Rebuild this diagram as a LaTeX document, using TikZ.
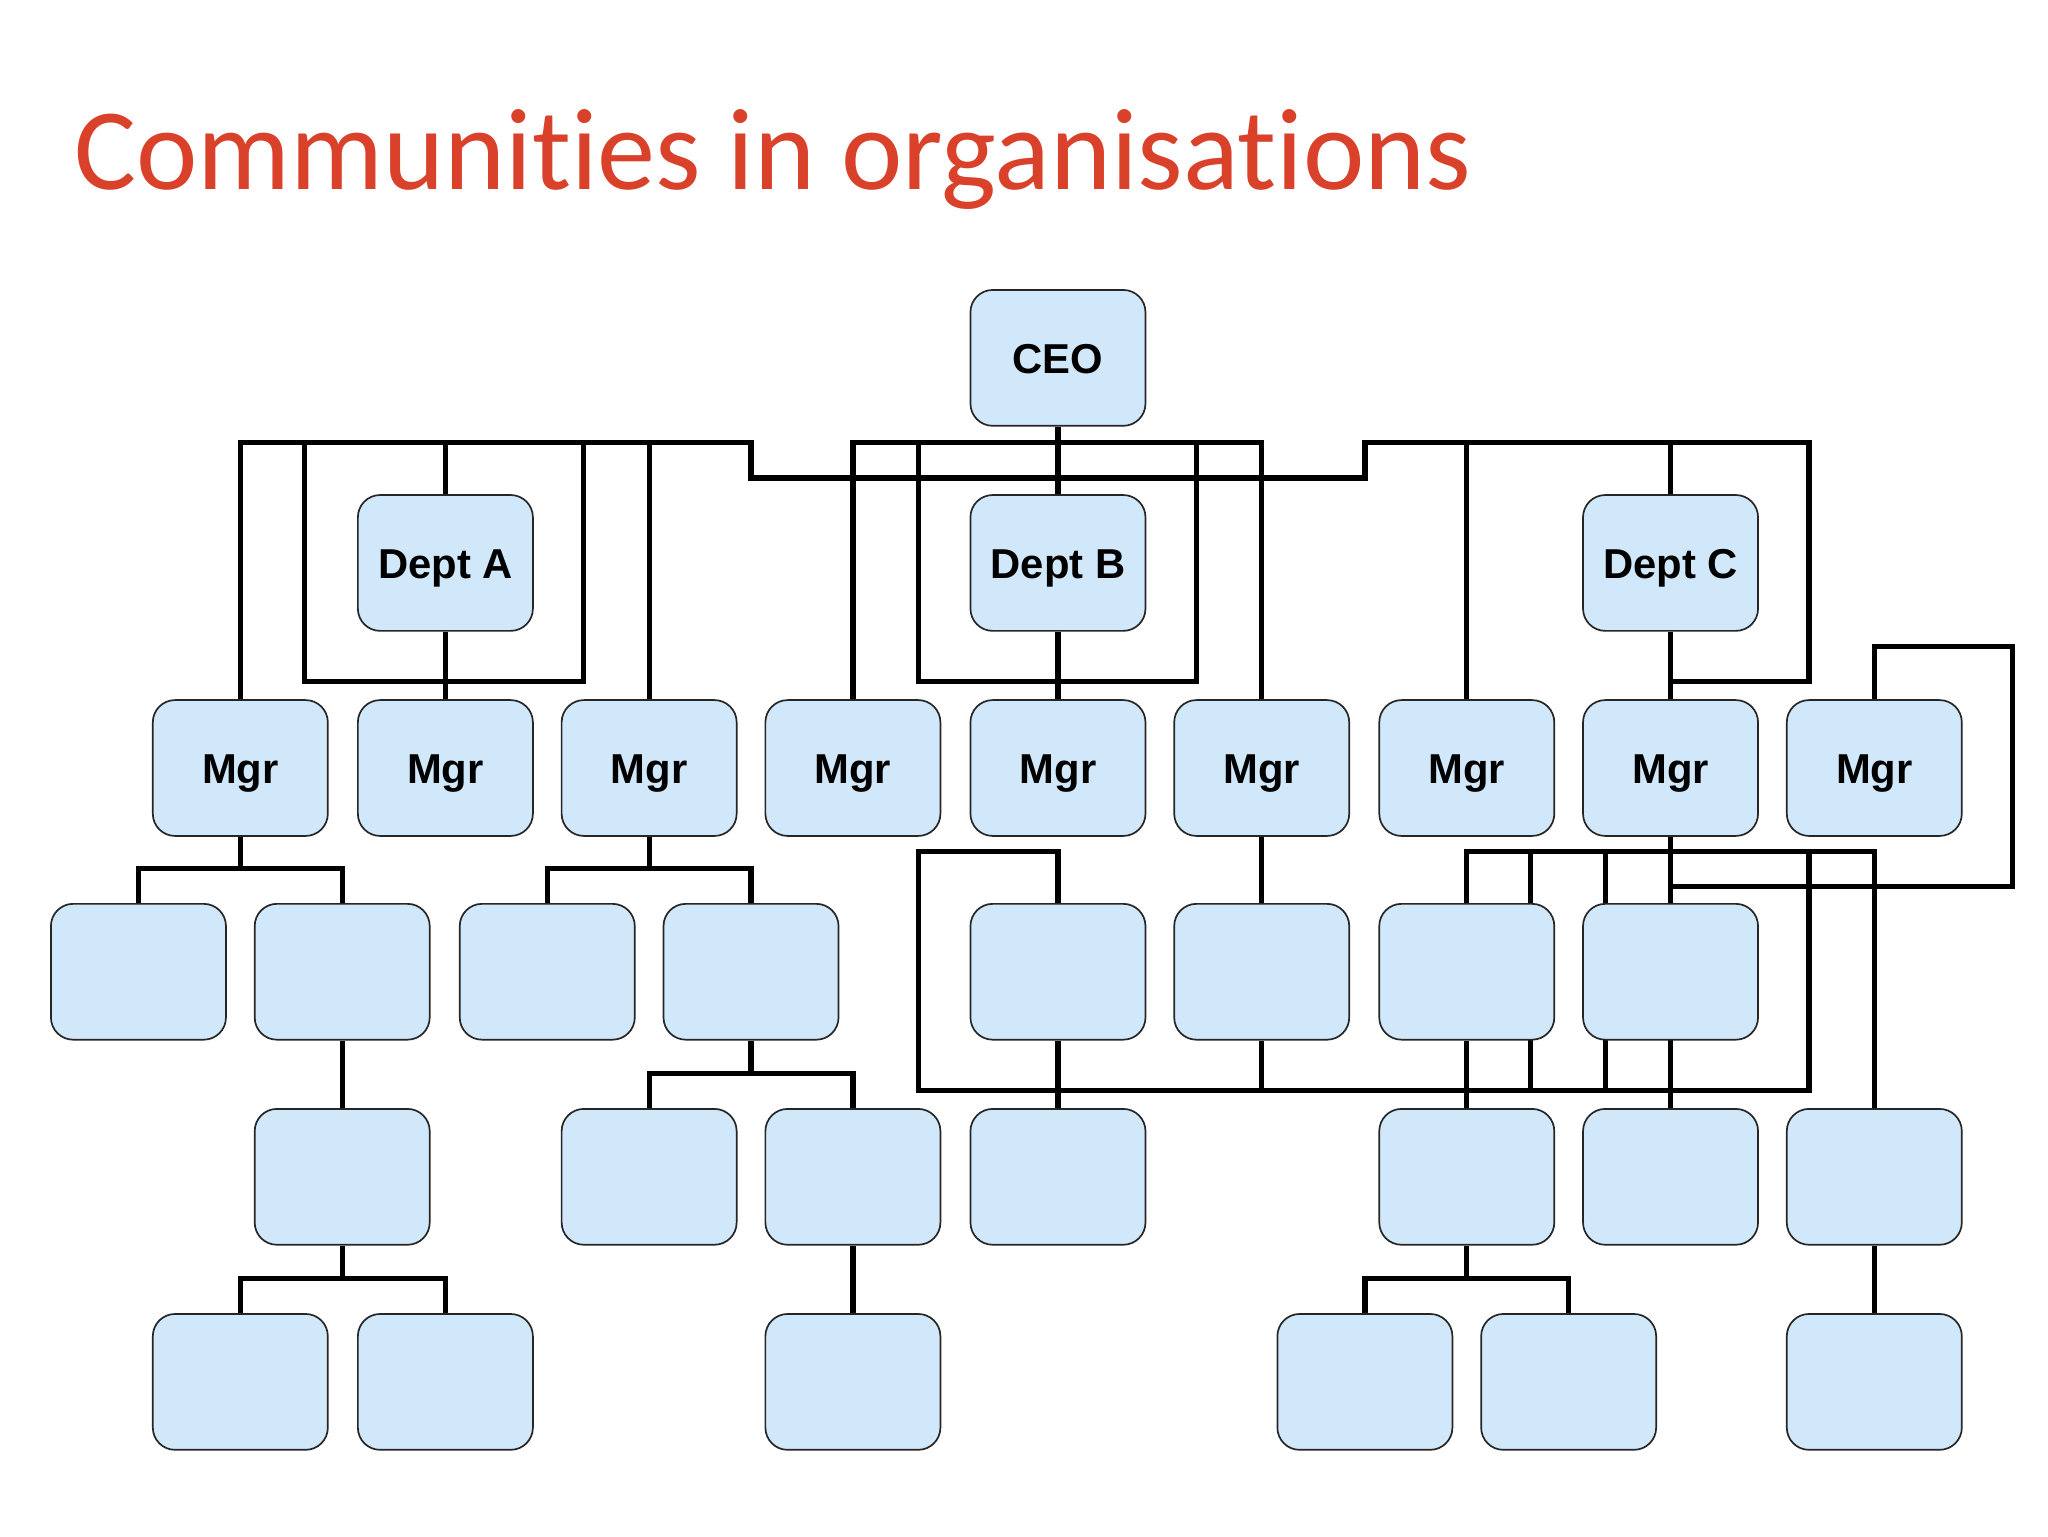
\documentclass[tikz,border=0pt]{standalone}
\usepackage{fontspec}
\setmainfont{Liberation Sans}
\newfontfamily\titlefont[Ligatures={NoCommon,NoRare}]{Carlito}
\pgfdeclarelayer{bg}
\pgfdeclarelayer{paper}
\pgfsetlayers{paper,bg,main}
\definecolor{boxfill}{HTML}{D0E8FA}
\definecolor{titlered}{HTML}{D9412A}
\tikzset{
 box/.style={draw=black!85,line width=1.3pt,fill=boxfill,rounded corners=17pt,minimum width=134pt,minimum height=104pt,inner sep=0pt,text height=24pt,text depth=0pt,font=\fontsize{32}{34}\selectfont\bfseries},
 link/.style={line width=4pt,line join=miter}
}
\begin{document}
\begin{tikzpicture}[x=1pt,y=-1pt]
\useasboundingbox (0,0) rectangle (1568,1176);
\begin{pgfonlayer}{paper}
\fill[white] (0,0) rectangle (1568,1176);
\end{pgfonlayer}
\node[anchor=base west,text=titlered,font=\titlefont\fontsize{89}{92}\selectfont,inner sep=0pt] (title) at (57,145) {Communities in organisations};
% nodes
\node[box] (ceo) at (810,274) {CEO};
\node[box] (da) at (341,431) {Dept A};
\node[box] (db) at (810,431) {Dept B};
\node[box] (dc) at (1279,431) {Dept C};
\foreach \n/\x in {1/184,2/341,3/497,4/653,5/810,6/966,7/1123,8/1279,9/1435}
 \node[box] (m\n) at (\x,588) {Mgr};
\foreach \n/\x in {1/106,2/262,3/419,4/575,5/810,6/966,7/1123,8/1279}
 \node[box] (a\n) at (\x,744) {};
\foreach \n/\x in {1/262,2/497,3/653,4/810,5/1123,6/1279,7/1435}
 \node[box] (b\n) at (\x,901) {};
\foreach \n/\x in {1/184,2/341,3/653,4/1045,5/1201,6/1435}
 \node[box] (c\n) at (\x,1058) {};
\begin{pgfonlayer}{bg}
% top bus
\draw[link] (ceo.south) -- (810,366) -- (575,366) -- (575,339) -- (184,339) -- (m1.north);
\draw[link] (810,366) -- (1045,366) -- (1045,339) -- (1385,339) -- (1385,522) -- (1279,522);
\draw[link] (341,339) -- (da.north);
\draw[link] (497,339) -- (m3.north);
\draw[link] (233,339) -- (233,522) -- (447,522) -- (447,339);
\draw[link] (da.south) -- (m2.north);
\draw[link] (m4.north) -- (653,339) -- (966,339) -- (m6.north);
\draw[link] (703,339) -- (703,522) -- (916,522) -- (916,339);
\draw[link] (810,366) -- (db.north);
\draw[link] (db.south) -- (m5.north);
\draw[link] (1123,339) -- (m7.north);
\draw[link] (1279,339) -- (dc.north);
\draw[link] (dc.south) -- (m8.north);
\draw[link] (m9.north) -- (1435,495) -- (1541,495) -- (1541,679) -- (1279,679);
% left trees
\draw[link] (m1.south) -- (184,665) -- (106,665) -- (a1.north);
\draw[link] (184,665) -- (262,665) -- (a2.north);
\draw[link] (a2.south) -- (b1.north);
\draw[link] (b1.south) -- (262,979) -- (184,979) -- (c1.north);
\draw[link] (262,979) -- (341,979) -- (c2.north);
\draw[link] (m3.south) -- (497,665) -- (419,665) -- (a3.north);
\draw[link] (497,665) -- (575,665) -- (a4.north);
\draw[link] (a4.south) -- (575,822) -- (497,822) -- (b2.north);
\draw[link] (575,822) -- (653,822) -- (b3.north);
\draw[link] (b3.south) -- (c3.north);
% middle/right
\draw[link] (a5.north) -- (810,652) -- (703,652) -- (703,835) -- (1385,835) -- (1385,652);
\draw[link] (a7.north) -- (1123,652) -- (1435,652) -- (b7.north);
\draw[link] (1172,652) -- (1172,835);
\draw[link] (1229,652) -- (1229,835);
\draw[link] (m8.south) -- (b6.north);
\draw[link] (m6.south) -- (a6.north);
\draw[link] (a6.south) -- (966,835);
\draw[link] (a5.south) -- (b4.north);
\draw[link] (a7.south) -- (b5.north);
\draw[link] (b5.south) -- (1123,979) -- (1045,979) -- (c4.north);
\draw[link] (1123,979) -- (1201,979) -- (c5.north);
\draw[link] (b7.south) -- (c6.north);
\end{pgfonlayer}
\end{tikzpicture}
\end{document}
